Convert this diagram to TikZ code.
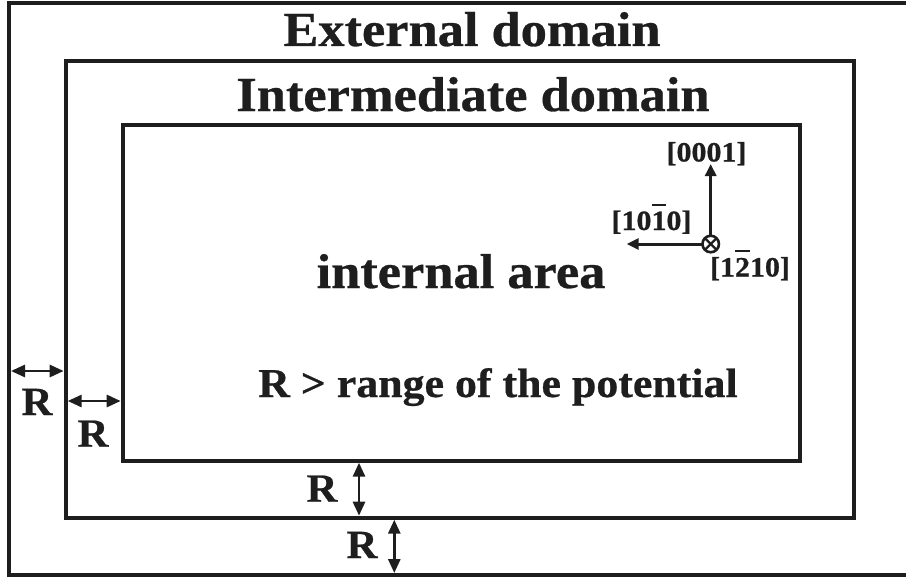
\documentclass[tikz,border=0pt]{standalone}
\usepackage{fontspec}
\newfontfamily\labelfont{Liberation Serif}[FakeStretch=1.07, FakeBold=0.6]
\usetikzlibrary{arrows.meta}
\definecolor{ink}{RGB}{30,30,30}
% digit with a bar over it (Miller-Bravais index notation)
\newcommand\ovl[1]{{\setbox0=\hbox{#1}\rlap{\raisebox{1.3\ht0}{\rule{\wd0}{0.075em}}}\box0}}
\tikzset{
  domainbox/.style={draw=ink, line width=4pt, inner sep=0pt, outer sep=0pt},
  title/.style={font=\labelfont\fontsize{49}{49}\selectfont\bfseries, text=ink, inner sep=0pt, anchor=base},
  note/.style={font=\labelfont\fontsize{41}{41}\selectfont\bfseries, text=ink, inner sep=0pt, anchor=base},
  rlabel/.style={font=\labelfont\fontsize{40}{40}\selectfont\bfseries, text=ink, inner sep=0pt, anchor=base},
  idx/.style={font=\labelfont\fontsize{28}{28}\selectfont\bfseries, text=ink, inner sep=0pt, anchor=base},
  rarrow/.style={draw=ink, line width=2.8pt, {Triangle[length=14pt,width=12pt]}-{Triangle[length=14pt,width=12pt]}, shorten <=2pt, shorten >=2pt},
  axarrow/.style={draw=ink, line width=3pt, -{Triangle[length=12pt,width=11pt]}},
  axdot/.style={circle, draw=ink, line width=2.6pt, inner sep=0pt, minimum size=16.5pt, outer sep=0pt},
}
\begin{document}
\begin{tikzpicture}[x=1pt, y=-1pt]
  \clip (0,0) rectangle (906,578);
  \fill[white] (0,0) rectangle (906,578);

  % nested domains
  \node[domainbox, minimum width=902pt, minimum height=571.5pt] (outer) at (460,289.25) {};
  \node[domainbox, minimum width=788pt, minimum height=456.7pt] (mid) at (459.7,289.35) {};
  \node[domainbox, minimum width=677pt, minimum height=335.4pt] (inner) at (461.2,293) {};

  % titles
  \node[title] (ext) at (472,46) {External domain};
  \node[title] (intm) at (473,111) {Intermediate domain};
  \node[title] (area) at (461,288) {internal area};
  \node[note] (cond) at (498,397) {R > range of the potential};

  % shell widths
  \coordinate (l1) at (0,371);
  \coordinate (l2) at (0,401);
  \coordinate (b1) at (359,0);
  \coordinate (b2) at (394.3,0);
  \draw[rarrow] (outer.west |- l1) -- (mid.west |- l1);
  \draw[rarrow] (mid.west |- l2) -- (inner.west |- l2);
  \draw[rarrow] (b1 |- inner.south) -- (b1 |- mid.south);
  \draw[rarrow] (b2 |- mid.south) -- (b2 |- outer.south);
  \node[rlabel] (r1) at (37,415) {R};
  \node[rlabel] (r2) at (93,446.7) {R};
  \node[rlabel] (r3) at (322,501.7) {R};
  \node[rlabel] (r4) at (362,558) {R};

  % crystal axes
  \node[axdot] (ax) at (710.7,244) {};
  \draw[ink, line width=2.2pt] (ax.north west) -- (ax.south east);
  \draw[ink, line width=2.2pt] (ax.north east) -- (ax.south west);
  \coordinate (cup) at (710.7,164);
  \coordinate (cleft) at (626.7,244);
  \draw[axarrow] (ax) -- (cup);
  \draw[axarrow] (ax) -- (cleft);
  \node[idx] (c0001) at (706.5,161.5) {[0001]};
  \node[idx] (c1010) at (651.5,230) {[10\ovl{1}0]};
  \node[idx] (c1210) at (750,276.5) {[1\ovl{2}10]};
\end{tikzpicture}
\end{document}
